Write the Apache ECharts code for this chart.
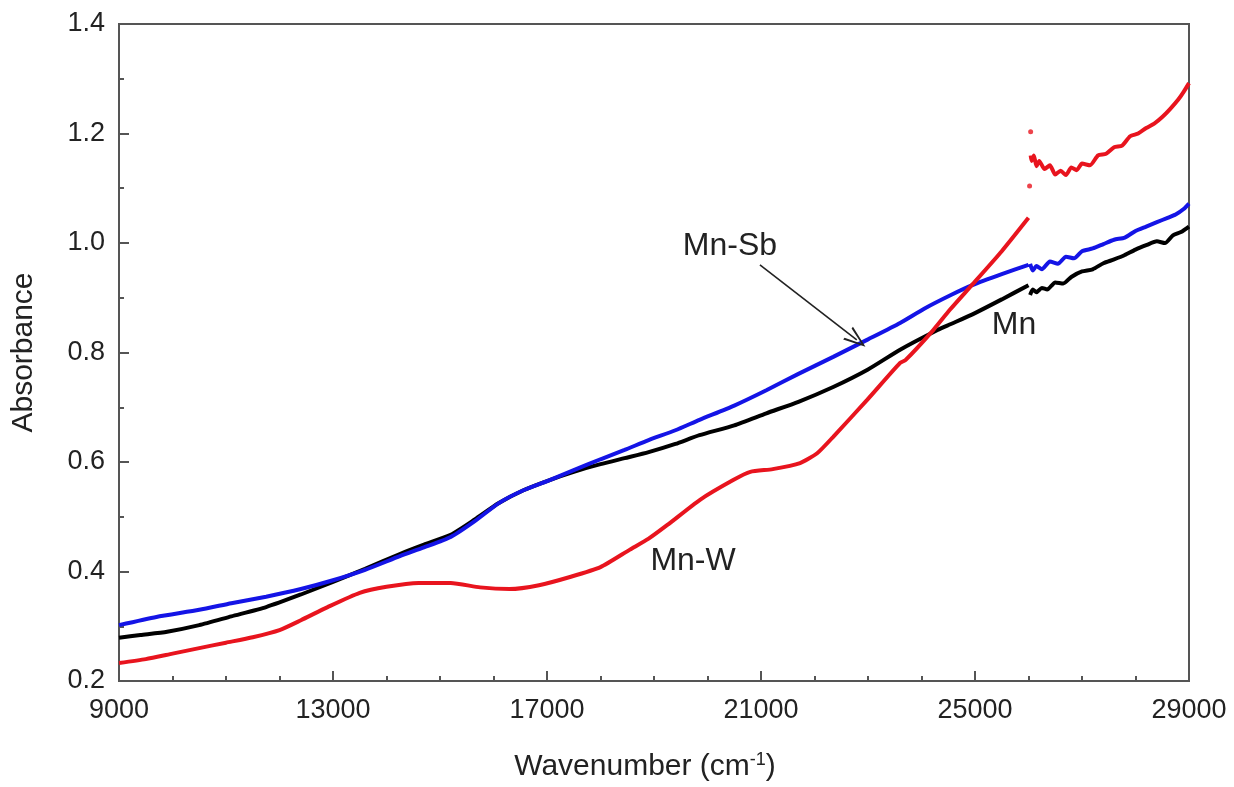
<!DOCTYPE html>
<html>
<head>
<meta charset="utf-8">
<script src="https://cdn.jsdelivr.net/npm/echarts@6/dist/echarts.min.js"></script>
<style>
html,body{margin:0;padding:0;background:#fff;}
#chart{width:1234px;height:787px;}
</style>
</head>
<body>
<div id="chart"></div>
<script>
// ---- tick definitions ----
const xTicks = [9000, 13000, 17000, 21000, 25000, 29000];
const yTicks = [0.2, 0.4, 0.6, 0.8, 1.0, 1.2, 1.4];

// ---- Mn (black) ----
const mnMain = [
  [9000,0.279],[9400,0.284],[9900,0.290],[10500,0.302],[11100,0.318],[11750,0.335],[12400,0.358],
  [13000,0.381],[13600,0.405],[14250,0.432],[14700,0.449],[15200,0.467],[15650,0.495],[16100,0.525],
  [16550,0.548],[17050,0.567],[17500,0.582],[18000,0.596],[18450,0.607],[18900,0.618],[19400,0.633],
  [19850,0.649],[20500,0.667],[21100,0.689],[21700,0.710],[22350,0.737],[23000,0.769],[23600,0.805],
  [24300,0.841],[24550,0.852],[25000,0.872],[25500,0.897],[26000,0.923]
];
const mnTail = [
  [26030,0.905],[26080,0.915],[26150,0.910],[26250,0.918],[26350,0.915],[26500,0.928],[26650,0.926],
  [26800,0.938],[27000,0.948],[27200,0.952],[27400,0.963],[27600,0.970],[27800,0.978],[28000,0.988],
  [28200,0.996],[28400,1.003],[28550,1.000],[28700,1.014],[28850,1.020],[29000,1.030]
];

// ---- Mn-Sb (blue) ----
const sbMain = [
  [9000,0.302],[9700,0.317],[10500,0.330],[11100,0.342],[11750,0.354],[12400,0.368],[13000,0.384],
  [13600,0.403],[14250,0.428],[14700,0.444],[15200,0.463],[15650,0.492],[16100,0.525],[16550,0.548],
  [17050,0.567],[17500,0.585],[18000,0.605],[18450,0.622],[18900,0.640],[19400,0.658],[19850,0.677],
  [20500,0.703],[21100,0.731],[21700,0.761],[22350,0.792],[23000,0.824],[23600,0.854],[24050,0.880],
  [24550,0.905],[24950,0.923],[25500,0.943],[26000,0.960]
];
const sbTail = [
  [26030,0.962],[26080,0.950],[26150,0.958],[26250,0.952],[26400,0.966],[26550,0.962],[26700,0.975],
  [26850,0.972],[27000,0.985],[27200,0.990],[27400,0.998],[27600,1.006],[27800,1.010],[28000,1.022],
  [28200,1.030],[28400,1.038],[28600,1.046],[28750,1.052],[28900,1.062],[29000,1.072]
];

// ---- Mn-W (red) ----
const wMain = [
  [9000,0.233],[9500,0.240],[10000,0.250],[10500,0.260],[11000,0.270],[11500,0.280],[12000,0.293],
  [12400,0.311],[12900,0.335],[13500,0.361],[14000,0.372],[14600,0.379],[15200,0.379],[15750,0.371],
  [16300,0.368],[16850,0.375],[17430,0.390],[18000,0.408],[18550,0.440],[18900,0.460],[19250,0.485],
  [19860,0.531],[20480,0.567],[20800,0.582],[21220,0.587],[21730,0.598],[22050,0.616],[22350,0.646],
  [22980,0.713],[23600,0.781],[23700,0.786],[24220,0.841],[24530,0.878],[24940,0.923],[25500,0.985],
  [26000,1.046]
];
const wTail = [
  [26040,1.160],[26060,1.150],[26100,1.160],[26150,1.140],[26200,1.150],[26300,1.135],
  [26400,1.142],[26500,1.125],[26600,1.132],[26700,1.124],[26800,1.138],[26900,1.133],[27000,1.145],
  [27150,1.142],[27300,1.160],[27450,1.163],[27600,1.175],[27750,1.178],[27900,1.195],[28050,1.200],
  [28200,1.210],[28350,1.218],[28500,1.230],[28650,1.245],[28800,1.262],[28900,1.276],[29000,1.292]
];
// isolated stray red points near the break
const wStray = [[26040,1.203],[26020,1.104]];

// ---- annotations (data coords) ----
const labelMnSb = {text: 'Mn-Sb', at: [20420, 0.995]};
const labelMn   = {text: 'Mn',    at: [25730, 0.850]};
const labelMnW  = {text: 'Mn-W',  at: [19730, 0.419]};
const arrowFrom = [20980, 0.960];
const arrowTo   = [22790, 0.823];

function joinSegments(a, b) {
  return a.concat([[ (a[a.length-1][0] + b[0][0]) / 2, '-' ]], b);
}

const FONT = '"Liberation Sans", Arial, sans-serif';
const TXT = '#222';

const chart = echarts.init(document.getElementById('chart'), null, {renderer: 'canvas'});

function textMark(lbl) {
  return {
    coord: lbl.at, value: lbl.text, symbolSize: 0,
    label: {show: true, position: 'inside', formatter: lbl.text, color: TXT,
            fontSize: 32, fontFamily: FONT}
  };
}

const lineCommon = {type: 'line', showSymbol: false, smooth: 0.2, connectNulls: false, animation: false};

const option = {
  animation: false,
  backgroundColor: '#fff',
  grid: {left: 119, right: 45, top: 24, bottom: 106, show: true, borderColor: '#555', borderWidth: 2, backgroundColor: 'transparent'},
  xAxis: {
    type: 'value', min: xTicks[0], max: xTicks[xTicks.length-1], interval: xTicks[1]-xTicks[0],
    name: 'Wavenumber (cm{sup|-1})', nameLocation: 'middle', nameGap: 70,
    nameTextStyle: {fontSize: 30, color: TXT, fontFamily: FONT, padding: [0,18,0,0],
      rich: {sup: {fontSize: 18, color: TXT, fontFamily: FONT, verticalAlign: 'top', padding: [0,0,14,0]}}},
    axisLine: {show: true, lineStyle: {color: '#555', width: 2}},
    axisTick: {show: true, inside: true, length: 10, lineStyle: {color: '#555', width: 2}},
    minorTick: {show: true, splitNumber: 4, length: 5, lineStyle: {color: '#555', width: 2}},
    splitLine: {show: false}, minorSplitLine: {show: false},
    axisLabel: {fontSize: 27, color: TXT, fontFamily: FONT, margin: 16, formatter: v => String(v)}
  },
  yAxis: {
    type: 'value', min: yTicks[0], max: yTicks[yTicks.length-1], interval: 0.2,
    name: 'Absorbance', nameLocation: 'middle', nameGap: 80, nameRotate: 90,
    nameTextStyle: {fontSize: 30, color: TXT, fontFamily: FONT},
    axisLine: {show: true, lineStyle: {color: '#555', width: 2}},
    axisTick: {show: true, inside: true, length: 10, lineStyle: {color: '#555', width: 2}},
    minorTick: {show: true, splitNumber: 2, length: 5, lineStyle: {color: '#555', width: 2}},
    splitLine: {show: false}, minorSplitLine: {show: false},
    axisLabel: {fontSize: 27, color: TXT, fontFamily: FONT, margin: 14, formatter: v => v.toFixed(1)}
  },
  series: [
    Object.assign({}, lineCommon, {
      name: 'Mn', data: joinSegments(mnMain, mnTail),
      lineStyle: {color: '#000', width: 4}, itemStyle: {color: '#000'}, z: 3
    }),
    Object.assign({}, lineCommon, {
      name: 'Mn-Sb', data: joinSegments(sbMain, sbTail),
      lineStyle: {color: '#1414e6', width: 4}, itemStyle: {color: '#1414e6'}, z: 4,
      markPoint: {data: [textMark(labelMnSb), textMark(labelMn), textMark(labelMnW)], animation: false},
      markLine: {
        silent: true, animation: false,
        symbol: ['none', 'path://M5,0 L10,10 L8.6,10 L5,2.2 L1.4,10 L0,10 Z'],
        symbolSize: [16, 22], symbolOffset: [0, 0],
        lineStyle: {color: '#222', width: 1.6, type: 'solid'},
        label: {show: false},
        data: [[{coord: arrowFrom}, {coord: arrowTo}]]
      }
    }),
    Object.assign({}, lineCommon, {
      name: 'Mn-W', data: joinSegments(wMain, wTail),
      lineStyle: {color: '#e8141e', width: 4}, itemStyle: {color: '#e8141e'}, z: 5
    }),
    {
      name: 'Mn-W stray', type: 'scatter', data: wStray, symbolSize: 5,
      itemStyle: {color: '#e8141e'}, z: 5, animation: false, silent: true
    }
  ]
};
chart.setOption(option);
</script>
</body>
</html>
